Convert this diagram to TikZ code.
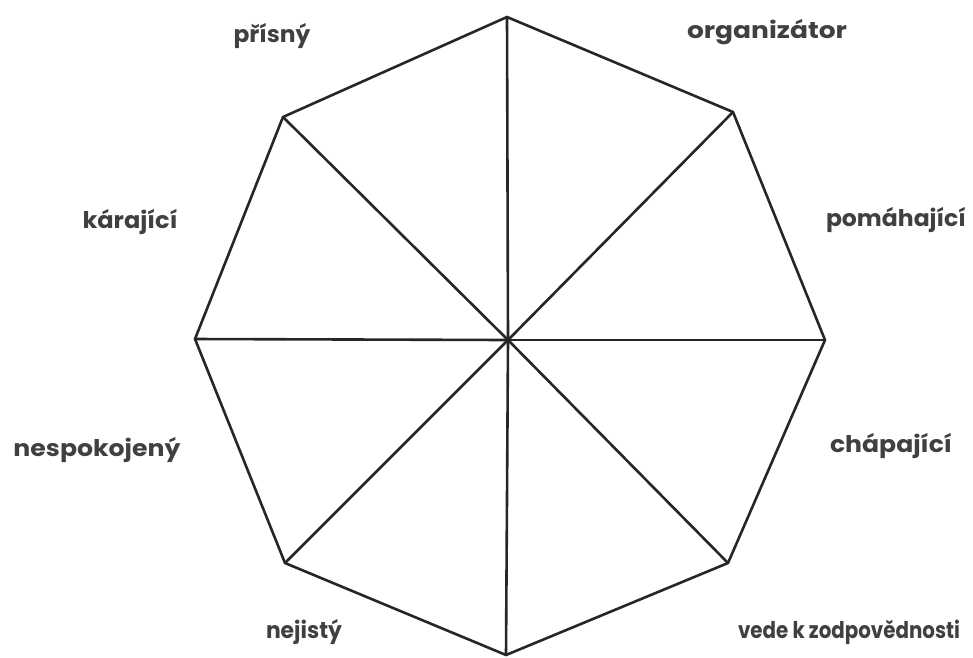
\documentclass[tikz,border=0pt]{standalone}
\usepackage{graphicx}
\usepackage{fontspec}
\setmainfont{Poppins}
\newcommand{\fitw}[2]{\resizebox{#1}{\height}{#2}}
\begin{document}
\begin{tikzpicture}[x=1pt,y=-1pt,
  edge/.style={line width=2.6pt, line join=miter, black!85},
  lbl/.style={font=\fontsize{23}{27}\selectfont\bfseries, text=black!75, inner sep=0pt}]
\useasboundingbox (0,0) rectangle (973,657);
\coordinate (C) at (508,340);
\coordinate (T) at (507,17);
\coordinate (TR) at (733,112);
\coordinate (R) at (825,340);
\coordinate (BR) at (728,563);
\coordinate (B) at (506,655);
\coordinate (BL) at (285,563);
\coordinate (L) at (195,339);
\coordinate (TL) at (283,117);
\draw[edge] (T) -- (TR) -- (R) -- (BR) -- (B) -- (BL) -- (L) -- (TL) -- cycle;
\foreach \p in {T,TR,R,BR,B,BL,L,TL} \draw[edge] (C) -- (\p);
\node[lbl] (n1) at (272,36) {\fitw{77pt}{přísný}};
\node[lbl] (n2) at (767,32) {\fitw{160pt}{organizátor}};
\node[lbl] (n3) at (130,222) {\fitw{95pt}{kárající}};
\node[lbl] (n4) at (896,220) {\fitw{140pt}{pomáhající}};
\node[lbl] (n5) at (97,450) {\fitw{167pt}{nespokojený}};
\node[lbl] (n6) at (891,446) {\fitw{122pt}{chápající}};
\node[lbl] (n7) at (304,632) {\fitw{76pt}{nejistý}};
\node[lbl] (n8) at (849,632) {\fitw{222pt}{vede k zodpovědnosti}};
\end{tikzpicture}
\end{document}
